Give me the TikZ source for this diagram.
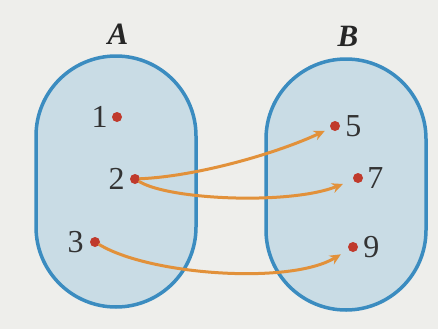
\documentclass[tikz,border=0pt]{standalone}
\usepackage{fontspec}
\setmainfont{Liberation Serif}
\usetikzlibrary{arrows.meta,positioning}
\definecolor{setfill}{HTML}{C9DCE5}
\definecolor{setedge}{HTML}{3B8CC0}
\definecolor{dotred}{HTML}{C03A2C}
\definecolor{maporange}{HTML}{E2913A}
\definecolor{paper}{HTML}{EEEEEB}

\begin{document}
\begin{tikzpicture}[x=1pt, y=1pt, line cap=round, line join=round,
  dot/.style={circle, fill=dotred, inner sep=0pt, minimum size=10pt},
  numlbl/.style={inner sep=0pt, text=black!80, font=\fontsize{32}{34}\selectfont},
  setlbl/.style={inner sep=0pt, text=black!85, font=\bfseries\itshape\fontsize{31}{34}\selectfont},
  maparrow/.style={maporange, line width=3, -{Stealth[length=11pt,width=10pt]}}]
  % paper
  \fill[paper] (0,0) rectangle (438,-329);
  % sets
  \filldraw[fill=setfill, draw=setedge, line width=3.5, rounded corners=80] (36,-56) rectangle (196,-307);
  \filldraw[fill=setfill, draw=setedge, line width=3.5, rounded corners=80] (266,-59) rectangle (426,-310);
  \node[setlbl] (setA) at (118,-34) {A};
  \node[setlbl] (setB) at (348,-36) {B};
  % elements
  \node[dot] (d1) at (117,-117) {};
  \node[dot] (d2) at (135,-179) {};
  \node[dot] (d3) at (95,-242) {};
  \node[dot] (d5) at (335,-126) {};
  \node[dot] (d7) at (358,-178) {};
  \node[dot] (d9) at (353,-247) {};
  \node[numlbl, left=4pt of d1] (n1) {1};
  \node[numlbl, left=5pt of d2] (n2) {2};
  \node[numlbl, left=6pt of d3] (n3) {3};
  \node[numlbl, right=5pt of d5] (n5) {5};
  \node[numlbl, right=4pt of d7] (n7) {7};
  \node[numlbl, right=5pt of d9] (n9) {9};
  % mapping
  \draw[maparrow, shorten >=6pt] (d2) .. controls (200,-176) and (280,-152) .. (d5);
  \draw[maparrow, shorten >=11pt] (d2) .. controls (170,-200) and (290,-205) .. (d7);
  \draw[maparrow, shorten >=9pt] (d3) .. controls (150,-275) and (290,-285) .. (d9);
\end{tikzpicture}
\end{document}
